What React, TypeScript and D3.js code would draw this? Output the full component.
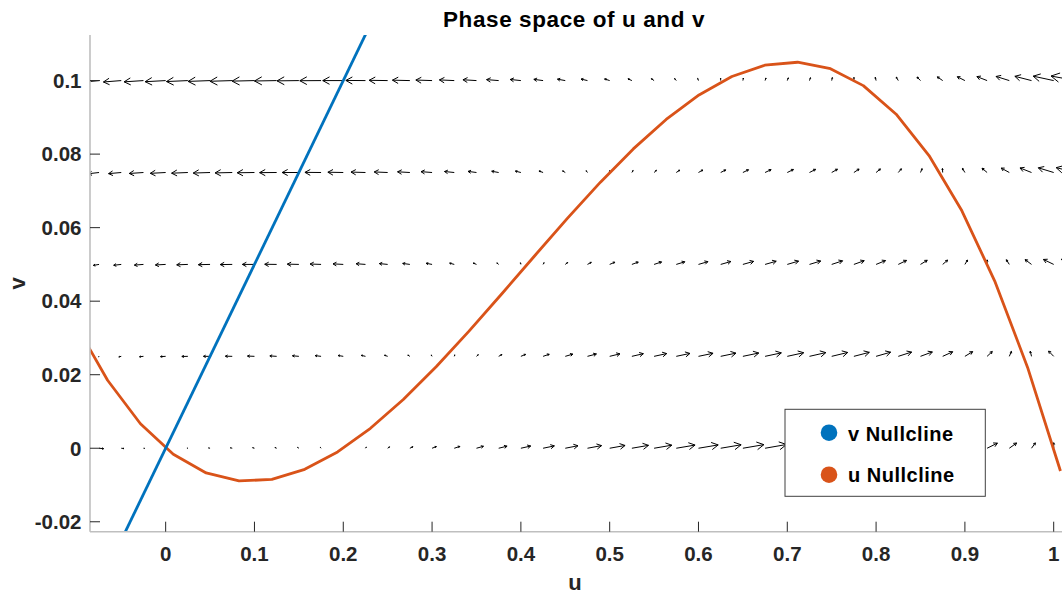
import React from "react";
import * as d3 from "d3";

// ---- data ----
const uTicks = [0, 0.1, 0.2, 0.3, 0.4, 0.5, 0.6, 0.7, 0.8, 0.9, 1];
const uTickLabels = ["0", "0.1", "0.2", "0.3", "0.4", "0.5", "0.6", "0.7", "0.8", "0.9", "1"];
const vTicks = [-0.02, 0, 0.02, 0.04, 0.06, 0.08, 0.1];
const vTickLabels = ["-0.02", "0", "0.02", "0.04", "0.06", "0.08", "0.1"];

// v nullcline (straight line)
const vNullU = [-0.1, 1.0];
const vNullV = [-0.05, 0.5];

// u nullcline (cubic), sampled points
const uNullU = [
  -0.1024, -0.0654, -0.0284, 0.0086, 0.0456, 0.0826, 0.1196, 0.1566, 0.1936, 0.2306,
  0.2676, 0.3046, 0.3416, 0.3786, 0.4156, 0.4526, 0.4896, 0.5266, 0.5636, 0.6006,
  0.6376, 0.6746, 0.7116, 0.7486, 0.7856, 0.8226, 0.8596, 0.8966, 0.9336, 0.9706, 1.0076,
];
const uNullV = [
  0.03414, 0.01849, 0.00667, -0.00163, -0.00672, -0.0089, -0.00847, -0.00573, -0.001, 0.00543,
  0.01325, 0.02216, 0.03185, 0.04202, 0.05236, 0.06258, 0.07237, 0.08142, 0.08943, 0.0961,
  0.10111, 0.10418, 0.10499, 0.10325, 0.09863, 0.09086, 0.07961, 0.06458, 0.04548, 0.02199, -0.00618,
];

// quiver grid
const quiverU = [
  -0.075, -0.05, -0.025, 0, 0.025, 0.05, 0.075, 0.1, 0.125, 0.15, 0.175, 0.2, 0.225, 0.25, 0.275,
  0.3, 0.325, 0.35, 0.375, 0.4, 0.425, 0.45, 0.475, 0.5, 0.525, 0.55, 0.575, 0.6, 0.625, 0.65,
  0.675, 0.7, 0.725, 0.75, 0.775, 0.8, 0.825, 0.85, 0.875, 0.9, 0.925, 0.95, 0.975, 1.0, 1.025,
];
const quiverV = [0, 0.025, 0.05, 0.075, 0.1];

const duRow0 = [
  0.0222, 0.0131, 0.0058, 0, -0.0043, -0.0071, -0.0087, -0.009, -0.0082, -0.0064, -0.0036, 0, 0.0044, 0.0094, 0.015,
  0.021, 0.0274, 0.0341, 0.041, 0.048, 0.055, 0.0619, 0.0686, 0.075, 0.081, 0.0866, 0.0916, 0.096, 0.0996, 0.1024,
  0.1042, 0.105, 0.1047, 0.1031, 0.1003, 0.096, 0.0902, 0.0829, 0.0738, 0.063, 0.0503, 0.0356, 0.0189, 0, -0.0211,
];
const duRow1 = [
  -0.0028, -0.0119, -0.0192, -0.025, -0.0293, -0.0321, -0.0337, -0.034, -0.0332, -0.0314, -0.0286, -0.025, -0.0206, -0.0156, -0.01,
  -0.004, 0.0024, 0.0091, 0.016, 0.023, 0.03, 0.0369, 0.0436, 0.05, 0.056, 0.0616, 0.0666, 0.071, 0.0746, 0.0774,
  0.0792, 0.08, 0.0797, 0.0781, 0.0753, 0.071, 0.0652, 0.0579, 0.0488, 0.038, 0.0253, 0.0106, -0.0061, -0.025, -0.0461,
];
const duRow2 = [
  -0.0278, -0.0369, -0.0442, -0.05, -0.0543, -0.0571, -0.0587, -0.059, -0.0582, -0.0564, -0.0536, -0.05, -0.0456, -0.0406, -0.035,
  -0.029, -0.0226, -0.0159, -0.009, -0.002, 0.005, 0.0119, 0.0186, 0.025, 0.031, 0.0366, 0.0416, 0.046, 0.0496, 0.0524,
  0.0542, 0.055, 0.0547, 0.0531, 0.0503, 0.046, 0.0402, 0.0329, 0.0238, 0.013, 0.0003, -0.0144, -0.0311, -0.05, -0.0711,
];
const duRow3 = [
  -0.0528, -0.0619, -0.0692, -0.075, -0.0793, -0.0821, -0.0837, -0.084, -0.0832, -0.0814, -0.0786, -0.075, -0.0706, -0.0656, -0.06,
  -0.054, -0.0476, -0.0409, -0.034, -0.027, -0.02, -0.0131, -0.0064, 0, 0.006, 0.0116, 0.0166, 0.021, 0.0246, 0.0274,
  0.0292, 0.03, 0.0297, 0.0281, 0.0253, 0.021, 0.0152, 0.0079, -0.0012, -0.012, -0.0247, -0.0394, -0.0561, -0.075, -0.0961,
];
const duRow4 = [
  -0.0778, -0.0869, -0.0942, -0.1, -0.1043, -0.1071, -0.1087, -0.109, -0.1082, -0.1064, -0.1036, -0.1, -0.0956, -0.0906, -0.085,
  -0.079, -0.0726, -0.0659, -0.059, -0.052, -0.045, -0.0381, -0.0314, -0.025, -0.019, -0.0134, -0.0084, -0.004, -0.0004, 0.0024,
  0.0042, 0.005, 0.0047, 0.0031, 0.0003, -0.004, -0.0098, -0.0171, -0.0262, -0.037, -0.0497, -0.0644, -0.0811, -0.1, -0.1211,
];

const dvRow0 = [
  -0.00049, -0.00033, -0.00016, 0, 0.00016, 0.00033, 0.00049, 0.00065, 0.00081, 0.00098, 0.00114, 0.0013, 0.00146, 0.00163, 0.00179,
  0.00195, 0.00211, 0.00228, 0.00244, 0.0026, 0.00276, 0.00293, 0.00309, 0.00325, 0.00341, 0.00358, 0.00374, 0.0039, 0.00406, 0.00423,
  0.00439, 0.00455, 0.00471, 0.00488, 0.00504, 0.0052, 0.00536, 0.00553, 0.00569, 0.00585, 0.00601, 0.00618, 0.00634, 0.0065, 0.00666,
];
const dvRow1 = [
  -0.00081, -0.00065, -0.00049, -0.00033, -0.00016, 0, 0.00016, 0.00033, 0.00049, 0.00065, 0.00081, 0.00098, 0.00114, 0.0013, 0.00146,
  0.00163, 0.00179, 0.00195, 0.00211, 0.00228, 0.00244, 0.0026, 0.00276, 0.00293, 0.00309, 0.00325, 0.00341, 0.00358, 0.00374, 0.0039,
  0.00406, 0.00423, 0.00439, 0.00455, 0.00471, 0.00488, 0.00504, 0.0052, 0.00536, 0.00553, 0.00569, 0.00585, 0.00601, 0.00618, 0.00634,
];
const dvRow2 = [
  -0.00114, -0.00098, -0.00081, -0.00065, -0.00049, -0.00033, -0.00016, 0, 0.00016, 0.00033, 0.00049, 0.00065, 0.00081, 0.00098, 0.00114,
  0.0013, 0.00146, 0.00163, 0.00179, 0.00195, 0.00211, 0.00228, 0.00244, 0.0026, 0.00276, 0.00293, 0.00309, 0.00325, 0.00341, 0.00358,
  0.00374, 0.0039, 0.00406, 0.00423, 0.00439, 0.00455, 0.00471, 0.00488, 0.00504, 0.0052, 0.00536, 0.00553, 0.00569, 0.00585, 0.00601,
];
const dvRow3 = [
  -0.00146, -0.0013, -0.00114, -0.00098, -0.00081, -0.00065, -0.00049, -0.00033, -0.00016, 0, 0.00016, 0.00033, 0.00049, 0.00065, 0.00081,
  0.00098, 0.00114, 0.0013, 0.00146, 0.00163, 0.00179, 0.00195, 0.00211, 0.00228, 0.00244, 0.0026, 0.00276, 0.00293, 0.00309, 0.00325,
  0.00341, 0.00358, 0.00374, 0.0039, 0.00406, 0.00423, 0.00439, 0.00455, 0.00471, 0.00488, 0.00504, 0.0052, 0.00536, 0.00553, 0.00569,
];
const dvRow4 = [
  -0.00179, -0.00163, -0.00146, -0.0013, -0.00114, -0.00098, -0.00081, -0.00065, -0.00049, -0.00033, -0.00016, 0, 0.00016, 0.00033, 0.00049,
  0.00065, 0.00081, 0.00098, 0.00114, 0.0013, 0.00146, 0.00163, 0.00179, 0.00195, 0.00211, 0.00228, 0.00244, 0.0026, 0.00276, 0.00293,
  0.00309, 0.00325, 0.00341, 0.00358, 0.00374, 0.0039, 0.00406, 0.00423, 0.00439, 0.00455, 0.00471, 0.00488, 0.00504, 0.0052, 0.00536,
];

const duRows = [duRow0, duRow1, duRow2, duRow3, duRow4];
const dvRows = [dvRow0, dvRow1, dvRow2, dvRow3, dvRow4];

const legendLabels = ["v Nullcline", "u Nullcline"];
const titleText = "Phase space of u and v";

// ---- layout ----
const W = 1062;
const H = 594;
const PL = 90;
const PR = 1064.8;
const PT = 35;
const PB = 531.7;
const BLUE = "#0072BD";
const ORANGE = "#D95319";
const AXC = "#262626";
const FONT = "'Liberation Sans', Arial, Helvetica, sans-serif";
const QSCALE = 0.231;

export default function App() {
  const x = d3.scaleLinear().domain([-0.0852, 1.0125]).range([PL, PR]);
  const y = d3.scaleLinear().domain([-0.0227, 0.1124]).range([PB, PT]);

  const line = d3
    .line<[number, number]>()
    .x((d) => x(d[0]))
    .y((d) => y(d[1]));

  const uNullPath = line(uNullU.map((u, i) => [u, uNullV[i]] as [number, number])) || "";
  const vNullPath = line(vNullU.map((u, i) => [u, vNullV[i]] as [number, number])) || "";

  // quiver arrows
  const alpha = 0.33;
  const beta = 0.55;
  let quiverPath = "";
  quiverV.forEach((v, r) => {
    quiverU.forEach((u, c) => {
      const du = duRows[r][c];
      const dv = dvRows[r][c];
      const x0 = x(u);
      const y0 = y(v);
      const x1 = x(u + QSCALE * du);
      const y1 = y(v + QSCALE * dv);
      const dx = x1 - x0;
      const dy = y1 - y0;
      const bx = x1 - alpha * dx;
      const by = y1 - alpha * dy;
      const px = -dy * alpha * beta;
      const py = dx * alpha * beta;
      quiverPath += `M${x0.toFixed(2)},${y0.toFixed(2)}L${x1.toFixed(2)},${y1.toFixed(2)}`;
      quiverPath += `M${(bx + px).toFixed(2)},${(by + py).toFixed(2)}L${x1.toFixed(2)},${y1.toFixed(
        2
      )}L${(bx - px).toFixed(2)},${(by - py).toFixed(2)}`;
    });
  });

  const legendX = 785;
  const legendY = 409.3;
  const legendW = 200.3;
  const legendH = 87;
  const legendColors = [BLUE, ORANGE];

  return (
    <svg
      width={W}
      height={H}
      style={{ position: "absolute", left: 0, top: 0, background: "#fff", display: "block" }}
      fontFamily={FONT}
    >
      <rect x={0} y={0} width={W} height={H} fill="#fff" />
      <defs>
        <clipPath id="plotClip">
          <rect x={PL} y={PT} width={PR - PL} height={PB - PT} />
        </clipPath>
      </defs>

      {/* title */}
      <text
        x={574}
        y={27}
        textAnchor="middle"
        fontSize={22.5}
        fontWeight="bold"
        letterSpacing={0.6}
        fill="#000"
      >
        {titleText}
      </text>

      <g clipPath="url(#plotClip)">
        <path d={quiverPath} fill="none" stroke="#000" strokeWidth={1} />
        <path d={uNullPath} fill="none" stroke={ORANGE} strokeWidth={2.8} strokeLinejoin="round" />
        <path d={vNullPath} fill="none" stroke={BLUE} strokeWidth={2.8} />
      </g>

      {/* axes */}
      <line x1={PL} x2={PL} y1={PT} y2={PB} stroke="#bfbfbf" strokeWidth={1.6} />
      <line x1={PL} x2={W} y1={PB} y2={PB} stroke="#bfbfbf" strokeWidth={1.6} />

      {vTicks.map((t, i) => (
        <g key={"yt" + i}>
          <line x1={PL} x2={PL + 10} y1={y(t)} y2={y(t)} stroke={AXC} strokeWidth={1} />
          <text
            x={PL - 8.5}
            y={y(t) + 7.3}
            textAnchor="end"
            fontSize={20.5}
            fontWeight="bold"
            fill={AXC}
          >
            {vTickLabels[i]}
          </text>
        </g>
      ))}
      {uTicks.map((t, i) => (
        <g key={"xt" + i}>
          <line x1={x(t)} x2={x(t)} y1={PB} y2={PB - 10} stroke={AXC} strokeWidth={1} />
          <text x={x(t)} y={560.5} textAnchor="middle" fontSize={20.5} fontWeight="bold" fill={AXC}>
            {uTickLabels[i]}
          </text>
        </g>
      ))}

      {/* axis labels */}
      <text x={575} y={589.5} textAnchor="middle" fontSize={22} fontWeight="bold" fill={AXC}>
        u
      </text>
      <text
        transform={`translate(24.5,${(PT + PB) / 2}) rotate(-90)`}
        textAnchor="middle"
        fontSize={22}
        fontWeight="bold"
        fill={AXC}
      >
        v
      </text>

      {/* legend */}
      <rect
        x={legendX}
        y={legendY}
        width={legendW}
        height={legendH}
        fill="#fff"
        stroke="#404040"
        strokeWidth={1}
      />
      {legendLabels.map((lab, i) => (
        <g key={"lg" + i}>
          <circle cx={829} cy={432.7 + i * 42} r={8.3} fill={legendColors[i]} />
          <text
            x={848}
            y={440.5 + i * 41.5}
            fontSize={20}
            fontWeight="bold"
            letterSpacing={0.5}
            fill="#000"
          >
            {lab}
          </text>
        </g>
      ))}
    </svg>
  );
}
